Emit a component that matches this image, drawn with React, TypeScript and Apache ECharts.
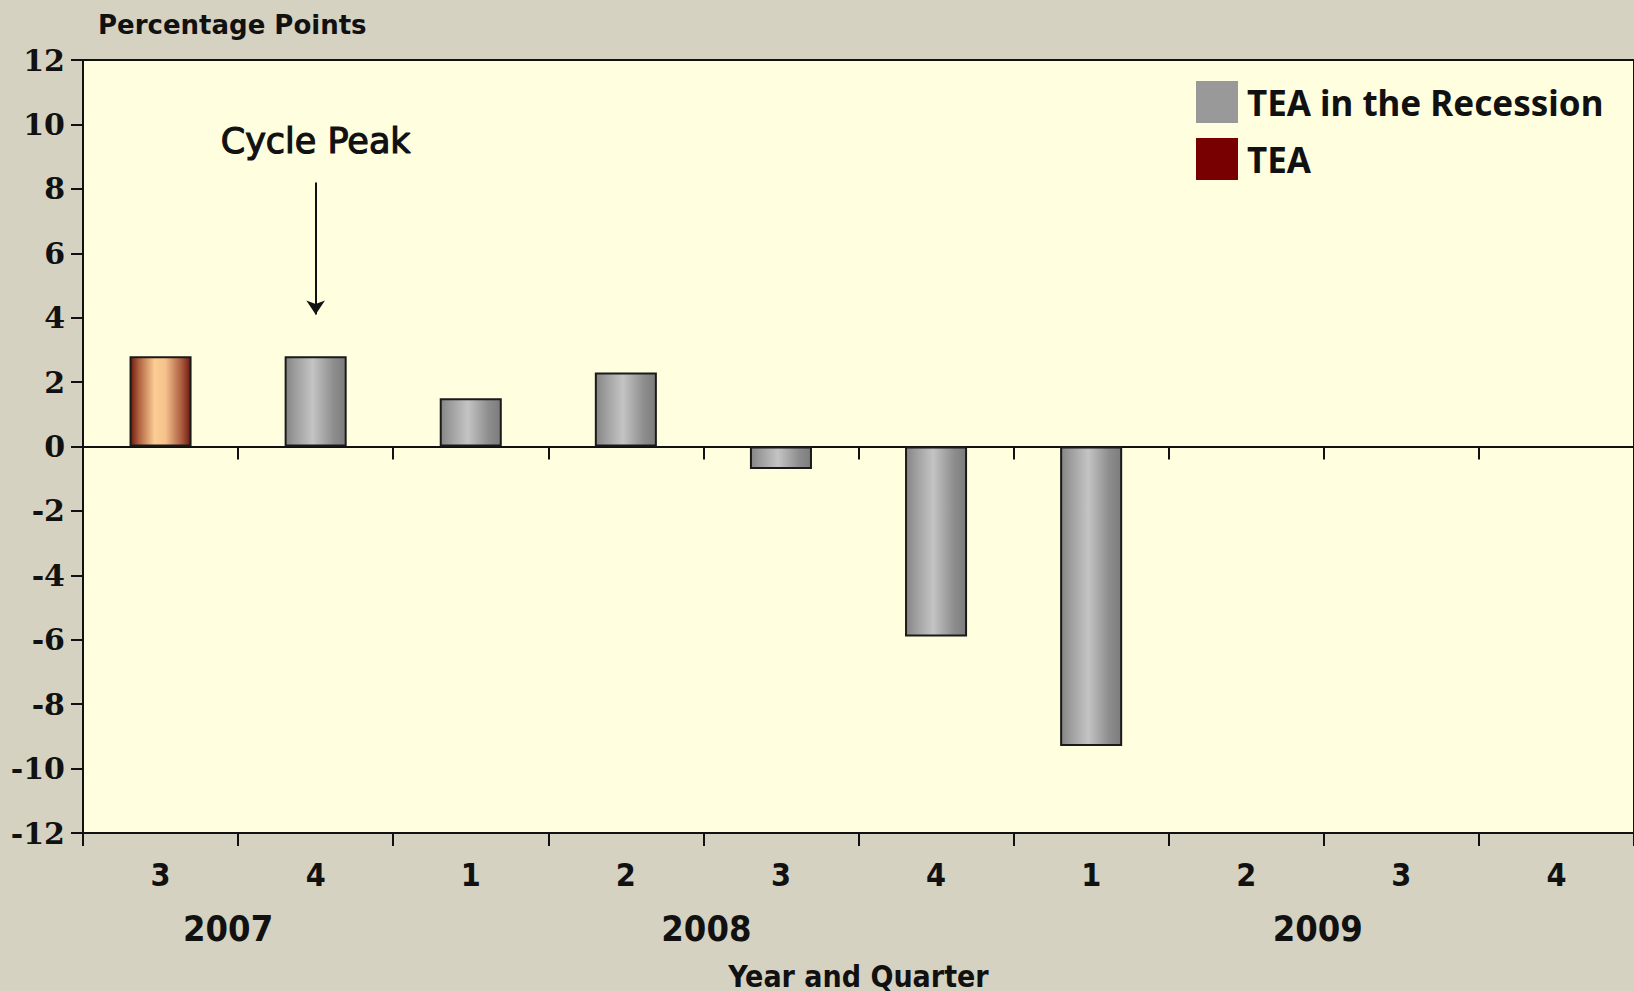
import React, { useEffect, useRef } from "react";
import * as echarts from "echarts";

const quarters = ["3", "4", "1", "2", "3", "4", "1", "2", "3", "4"];
const years = ["2007", "2007", "2008", "2008", "2008", "2008", "2009", "2009", "2009", "2009"];
const categories = quarters.map((q, i) => `${years[i]} Q${q}`);
const yearLabels = ["2007", "2008", "2009"];
const teaValues: (number | null)[] = [2.8, null, null, null, null, null, null, null, null, null];
const recessionValues: (number | null)[] = [null, 2.8, 1.5, 2.3, -0.7, -5.9, -9.3, null, null, null];
const yMin = -12;
const yMax = 12;
const yInterval = 2;
const peakIndex = 1;
const arrowFrom = 8.2;
const arrowTo = 4.1;
const peakLabelValue = 9.5;

const INK = "#111111";
const NARROW = "'Liberation Sans Narrow', 'DejaVu Sans Condensed', 'Arial Narrow', 'DejaVu Sans', sans-serif";

export default function App() {
  const ref = useRef<HTMLDivElement>(null);
  useEffect(() => {
    document.body.style.margin = "0";
    const chart = echarts.init(ref.current!, null, { renderer: "svg" });
    const grayGrad = new echarts.graphic.LinearGradient(0, 0, 1, 0, [
      { offset: 0, color: "#858585" },
      { offset: 0.15, color: "#9c9c9c" },
      { offset: 0.45, color: "#c4c4c4" },
      { offset: 0.8, color: "#8d8d8d" },
      { offset: 1, color: "#7c7c7c" },
    ]);
    const redGrad = new echarts.graphic.LinearGradient(0, 0, 1, 0, [
      { offset: 0, color: "#6e1a10" },
      { offset: 0.14, color: "#b0623f" },
      { offset: 0.4, color: "#fbcd95" },
      { offset: 0.58, color: "#f6c28c" },
      { offset: 0.86, color: "#a8583c" },
      { offset: 1, color: "#6e1a10" },
    ]);
    const axisLineStyle = { color: INK, width: 2 };
    chart.setOption({
      animation: false,
      backgroundColor: "#d5d2c1",
      title: {
        text: "Percentage Points",
        left: 93,
        top: 7,
        textStyle: { fontFamily: "'DejaVu Sans', sans-serif", fontWeight: "bold", fontSize: 26, color: INK },
      },
      grid: {
        left: 83,
        right: 0,
        top: 60,
        bottom: 158,
        show: true,
        backgroundColor: "#ffffe0",
        borderColor: INK,
        borderWidth: 2,
      },
      legend: {
        orient: "vertical",
        left: 1191,
        top: 76,
        itemWidth: 42,
        itemHeight: 42,
        itemGap: 15,
        icon: "rect",
        selectedMode: false,
        textStyle: {
          fontFamily: "'Noto Sans', sans-serif",
          fontWeight: "bold",
          fontSize: 35,
          color: INK,
          padding: [0, 0, 0, 4],
        },
        data: [
          { name: "TEA in the Recession", itemStyle: { color: "#999999", borderWidth: 0 } },
          { name: "TEA", itemStyle: { color: "#780000", borderWidth: 0 } },
        ],
      },
      xAxis: [
        {
          type: "category",
          data: categories,
          position: "bottom",
          axisLine: { onZero: false, lineStyle: axisLineStyle },
          axisTick: { show: true, length: 13, lineStyle: axisLineStyle },
          axisLabel: {
            formatter: (v: string) => v.split(" Q")[1],
            fontFamily: NARROW,
            fontWeight: "bold",
            fontSize: 32,
            color: INK,
            margin: 26,
          },
          splitLine: { show: false },
        },
        {
          type: "category",
          data: categories,
          position: "bottom",
          axisLine: { onZero: true, onZeroAxisIndex: 0, lineStyle: axisLineStyle },
          axisTick: { show: true, length: 13, lineStyle: axisLineStyle },
          axisLabel: { show: false },
          splitLine: { show: false },
        },
      ],
      yAxis: {
        type: "value",
        min: yMin,
        max: yMax,
        interval: yInterval,
        axisLine: { show: true, lineStyle: axisLineStyle },
        axisTick: { show: true, length: 12, lineStyle: axisLineStyle },
        axisLabel: {
          fontFamily: "'DejaVu Serif', serif",
          fontWeight: "bold",
          fontSize: 30,
          color: INK,
          margin: 18,
        },
        splitLine: { show: false },
      },
      series: [
        {
          name: "TEA in the Recession",
          type: "bar",
          data: recessionValues,
          barWidth: "40%",
          barGap: "-100%",
          itemStyle: { color: grayGrad, borderColor: "#1a1a1a", borderWidth: 2 },
          markLine: {
            silent: true,
            symbol: ["none", "arrow"],
            symbolSize: 14,
            lineStyle: { color: INK, width: 2, type: "solid" },
            label: { show: false },
            data: [[{ coord: [categories[peakIndex], arrowFrom] }, { coord: [categories[peakIndex], arrowTo] }]],
          },
        },
        {
          name: "TEA",
          type: "bar",
          data: teaValues,
          barWidth: "40%",
          barGap: "-100%",
          itemStyle: { color: redGrad, borderColor: "#1a1a1a", borderWidth: 2 },
        },
      ],
    });

    const px = (i: number) => chart.convertToPixel({ xAxisIndex: 0 }, categories[i]) as number;
    const graphics: any[] = [];
    yearLabels.forEach((yr) => {
      const idx = years.map((y, i) => (y === yr ? i : -1)).filter((i) => i >= 0);
      const x = (px(idx[0]) + px(idx[idx.length - 1])) / 2;
      graphics.push({
        type: "text",
        x: yr === "2007" ? x - 10 : yr === "2009" ? x - 6 : x + 3,
        y: 928,
        style: {
          text: yr,
          fontFamily: NARROW,
          fontWeight: "bold",
          fontSize: 36,
          fill: INK,
          align: "center",
          verticalAlign: "middle",
        },
      });
    });
    const peak = chart.convertToPixel({ gridIndex: 0 }, [categories[peakIndex], peakLabelValue]) as number[];
    graphics.push({
      type: "text",
      x: peak[0],
      y: peak[1],
      style: {
        text: "Cycle Peak",
        fontFamily: "'DejaVu Sans', sans-serif",
        fontSize: 35,
        fill: INK,
        stroke: INK,
        lineWidth: 1.2,
        align: "center",
        verticalAlign: "middle",
      },
    });
    graphics.push({
      type: "text",
      x: (px(0) + px(categories.length - 1)) / 2,
      y: 976,
      style: {
        text: "Year and Quarter",
        fontFamily: NARROW,
        fontWeight: "bold",
        fontSize: 30,
        fill: INK,
        align: "center",
        verticalAlign: "middle",
      },
    });
    chart.setOption({ graphic: graphics });
    return () => chart.dispose();
  }, []);
  return <div ref={ref} style={{ position: "absolute", left: 0, top: 0, width: 1634, height: 991 }} />;
}
